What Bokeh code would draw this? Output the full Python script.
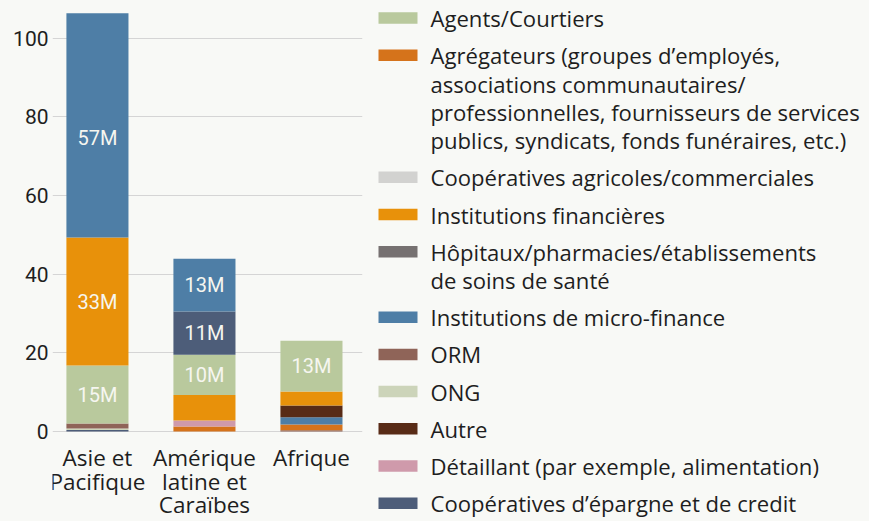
from bokeh.plotting import figure
from bokeh.models import ColumnDataSource, Range1d, FixedTicker
from bokeh.layouts import row
from bokeh.core.properties import value
from bokeh.embed import file_html
from bokeh.resources import INLINE

# ---------------- data ----------------
regions = ["Asie et\nPacifique", "Amérique\nlatine et\nCaraïbes", "Afrique"]

series_names = [
    "Agents/Courtiers",
    "Agrégateurs (groupes d’employés,\nassociations communautaires/\nprofessionnelles, fournisseurs de services\npublics, syndicats, fonds funéraires, etc.)",
    "Coopératives agricoles/commerciales",
    "Institutions financières",
    "Hôpitaux/pharmacies/établissements\nde soins de santé",
    "Institutions de micro-finance",
    "ORM",
    "ONG",
    "Autre",
    "Détaillant (par exemple, alimentation)",
    "Coopératives d’épargne et de credit",
]

# millions of clients, per region (Asie, Amérique latine, Afrique)
agents = [14.7, 10.2, 12.9]
agregateurs = [0.0, 1.3, 1.5]
coop_agricoles = [0.0, 0.0, 0.0]
institutions_financieres = [32.6, 6.5, 3.6]
hopitaux = [0.0, 0.0, 0.0]
micro_finance = [57.0, 13.4, 1.8]
orm = [1.3, 0.0, 0.3]
ong = [0.4, 0.0, 0.0]
autre = [0.0, 0.0, 3.0]
detaillant = [0.0, 1.5, 0.0]
coop_epargne = [0.35, 11.0, 0.0]

series_values = [agents, agregateurs, coop_agricoles, institutions_financieres,
                 hopitaux, micro_finance, orm, ong, autre, detaillant, coop_epargne]

series_colors = ["#b9c99d", "#d5731b", "#d2d2d0", "#e8910a", "#767171",
                 "#4e7ea6", "#8f6458", "#ccd4b9", "#582b16", "#cf9aab", "#4d5d79"]

y_ticks = [0, 20, 40, 60, 80, 100]
axis_max = 100  # labels of segments are centred on the part below the top tick

BG = "#f8f9f6"
TXT = "#1e1e1e"

# ---------------- layout constants (pixels) ----------------
H = 521
CW = 366            # chart panel width
LW = 869 - CW       # legend panel width
ZERO_PX = 431       # distance of value 0 from the top
UNIT_PX = 3.933     # pixels per million
LABEL_FIRST = 26    # first category-label line centre below the zero line
LABEL_STEP = 23.5

# ---------------- stacking (each bar sorted, smallest at bottom) ----------------
bars = dict(x=[], bottom=[], top=[], color=[])
labels = dict(x=[], y=[], text=[])
for i in range(len(regions)):
    segs = sorted((series_values[j][i], j) for j in range(len(series_values))
                  if series_values[j][i] > 0)
    cum = 0.0
    for v, j in segs:
        bars["x"].append(i)
        bars["bottom"].append(cum)
        bars["top"].append(cum + v)
        bars["color"].append(series_colors[j])
        if v >= 9.5:
            labels["x"].append(i)
            labels["y"].append((cum + min(cum + v, axis_max)) / 2)
            labels["text"].append(f"{v:.0f}M")
        cum += v

cat = dict(x=[], y=[], text=[])
for i, r in enumerate(regions):
    for k, ln in enumerate(r.split("\n")):
        cat["x"].append(i)
        cat["y"].append(-(LABEL_FIRST + k * LABEL_STEP) / UNIT_PX)
        cat["text"].append(ln)

# ---------------- chart ----------------
p = figure(width=CW, height=H, x_range=Range1d(-0.42, 2.477),
           y_range=Range1d(-(H - ZERO_PX) / UNIT_PX, ZERO_PX / UNIT_PX),
           output_backend="svg", toolbar_location=None,
           min_border_left=52, min_border_right=4, min_border_top=0, min_border_bottom=0)
p.background_fill_color = BG
p.border_fill_color = BG
p.outline_line_color = None

p.vbar(x="x", bottom="bottom", top="top", width=0.58, fill_color="color",
       line_color=None, source=ColumnDataSource(bars))
p.text(x="x", y="y", text="text", source=ColumnDataSource(labels),
       text_align="center", text_baseline="middle", text_color="#f6f6f0",
       text_font=value("Roboto"), text_font_size="20px")
p.text(x="x", y="y", text="text", source=ColumnDataSource(cat),
       text_align="center", text_baseline="middle", text_color=TXT,
       text_font=value("Open Sans"), text_font_size="22.5px")

p.xaxis.visible = False
p.xgrid.visible = False
p.ygrid.ticker = FixedTicker(ticks=y_ticks)
p.ygrid.grid_line_color = "#d5d5d5"
p.ygrid.grid_line_width = 1.2
p.ygrid.level = "underlay"

p.yaxis.ticker = FixedTicker(ticks=y_ticks)
p.yaxis.axis_line_color = None
p.yaxis.major_tick_line_color = None
p.yaxis.minor_tick_line_color = None
p.yaxis.major_tick_out = 0
p.yaxis.major_tick_in = 0
p.yaxis.major_label_standoff = 4
p.yaxis.major_label_text_font = "Roboto"
p.yaxis.major_label_text_font_size = "21px"
p.yaxis.major_label_text_color = TXT

# ---------------- legend (own panel, pixel coordinates) ----------------
lg = figure(width=LW, height=H, x_range=Range1d(0, LW), y_range=Range1d(H, 0),
            output_backend="svg", toolbar_location=None,
            min_border_left=0, min_border_right=0, min_border_top=0, min_border_bottom=0)
lg.background_fill_color = BG
lg.border_fill_color = BG
lg.outline_line_color = None
lg.axis.visible = False
lg.grid.visible = False

SW_X, SW_W, SW_H = 31.5, 39, 11.5
TX_X = 64
line_step = 28.3
item_gap = 8.9
y = 17.5
sw = dict(x=[], y=[], color=[])
tx = dict(x=[], y=[], text=[])
for name, col in zip(series_names, series_colors):
    lines = name.split("\n")
    sw["x"].append(SW_X)
    sw["y"].append(y)
    sw["color"].append(col)
    for k, ln in enumerate(lines):
        tx["x"].append(TX_X)
        tx["y"].append(y + k * line_step)
        tx["text"].append(ln)
    y += len(lines) * line_step + item_gap

lg.rect(x="x", y="y", width=SW_W, height=SW_H, fill_color="color", line_color=None,
        source=ColumnDataSource(sw))
lg.text(x="x", y="y", text="text", source=ColumnDataSource(tx),
        text_align="left", text_baseline="middle", text_color=TXT,
        text_font=value("Open Sans"), text_font_size="22.1px")

layout = row(p, lg, spacing=0)
layout.styles = {"background-color": BG}

open("out.html", "w").write(file_html(layout, INLINE))
